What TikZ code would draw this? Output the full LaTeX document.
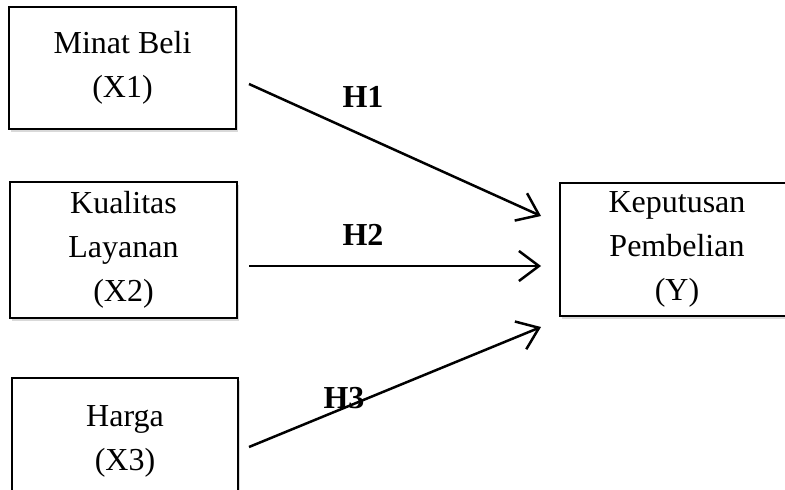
\documentclass[tikz,border=0pt]{standalone}
\usepackage{fontspec}
\setmainfont{Liberation Serif}
\usepackage{tikz}
\usetikzlibrary{arrows.meta,shadows}

\begin{document}
\begin{tikzpicture}[x=1pt,y=-1pt,
		var/.style={draw,line width=2pt,fill=white,align=center,inner sep=0pt,
			font=\fontsize{32}{44}\selectfont,
			drop shadow={shadow xshift=2pt,shadow yshift=-3pt,opacity=0.3}},
		hyp/.style={font=\fontsize{32}{38}\selectfont\bfseries,inner sep=0pt},
		link/.style={line width=2.5pt,-{Straight Barb[length=20pt,width=30pt]}}]
		\useasboundingbox (0,0) rectangle (785,490);
		\clip (0,0) rectangle (785,490);
		\node[var,minimum width=227pt,minimum height=122pt] (x1) at (122.5,68) {Minat Beli\\(X1)};
		\node[var,minimum width=227pt,minimum height=136pt] (x2) at (123.5,250) {Kualitas\\Layanan\\(X2)};
		\node[var,minimum width=226pt,minimum height=126pt] (x3) at (125,441) {Harga\\(X3)};
		\node[var,minimum width=234pt,minimum height=133pt] (y) at (677,249.5) {Keputusan\\Pembelian\\(Y)};
		\node[hyp] (h1) at (363,97) {H1};
		\node[hyp] (h2) at (363,235) {H2};
		\node[hyp] (h3) at (344,398) {H3};
		\path[link]
		([xshift=12pt,yshift=-16pt]x1.east) edge ([xshift=-18pt,yshift=33.5pt]y.west);
		\path[link]
		([xshift=11pt,yshift=-16pt]x2.east) edge ([xshift=-18pt,yshift=-16.5pt]y.west);
		\path[link]
		([xshift=10pt,yshift=-6pt]x3.east) edge ([xshift=-18pt,yshift=-77.5pt]y.west);
\end{tikzpicture}
\end{document}
